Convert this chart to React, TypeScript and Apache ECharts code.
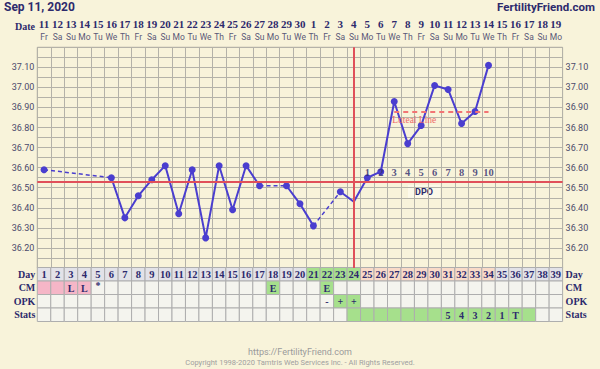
import React, { useEffect, useRef } from 'react';
import * as echarts from 'echarts';

// ---------- data ----------
const chartDate = 'Sep 11, 2020';
const siteName = 'FertilityFriend.com';
const cycleDays = ['1','2','3','4','5','6','7','8','9','10','11','12','13','14','15','16','17','18','19','20','21','22','23','24','25','26','27','28','29','30','31','32','33','34','35','36','37','38','39'];
const dates = ['11','12','13','14','15','16','17','18','19','20','21','22','23','24','25','26','27','28','29','30','1','2','3','4','5','6','7','8','9','10','11','12','13','14','15','16','17','18','19'];
const weekdays = ['Fr','Sa','Su','Mo','Tu','We','Th','Fr','Sa','Su','Mo','Tu','We','Th','Fr','Sa','Su','Mo','Tu','We','Th','Fr','Sa','Su','Mo','Tu','We','Th','Fr','Sa','Su','Mo','Tu','We','Th','Fr','Sa','Su','Mo'];
const temps: (number | null)[] = [
  36.59, null, null, null, null, 36.55, 36.35, 36.46, 36.54, 36.61,
  36.37, 36.59, 36.25, 36.61, 36.39, 36.61, 36.51, null, 36.51, 36.42,
  36.31, null, 36.48, 36.43, 36.55, 36.58, 36.93, 36.72, 36.81, 37.01,
  36.99, 36.82, 36.88, 37.11, null, null, null, null, null,
];
const noMarkerDays = [24];
const tempMin = 36.1;
const tempMax = 37.2;
const coverline = 36.53;
const ovulationDay = '24';
const lutealLevel = 36.88;
const lutealStart = '27';
const lutealEnd = '34';
const dpoLabels = ['1','2','3','4','5','6','7','8','9','10'];
const dpoStartDay = 25;
const rowNames = ['Day', 'CM', 'OPK', 'Stats'];
// n = normal, f = fertile, l = luteal
const dayPhase = ['n','n','n','n','n','n','n','n','n','n','n','n','n','n','n','n','n','n','n','n','f','f','f','f','l','l','l','l','l','l','l','l','l','l','n','n','n','n','n'];
// M = menstruation (no text), L = light, E = egg white, * = spotting
const cmObs = ['M','M','L','L','*','','','','','','','','','','','','','E','','','','E','','','','','','','','','','','','','','','','',''];
const opkObs = ['','','','','','','','','','','','','','','','','','','','','','-','+','+','','','','','','','','','','','','','','',''];
const statsObs = ['','','','','','','','','','','','','','','','','','','','','','','','g','g','g','g','g','g','g','5','4','3','2','1','T','g','',''];

// ---------- styles ----------
const NAVY = '#2d2a6c';
const BLUE = '#4a3ecf';
const RED = '#e0505a';
const BG = '#f8f3da';
const GRIDLINE = '#b4b2a8';
const CELL = '#f4f4ee';
const GRAY_CELL = '#e2e2e8';
const GREEN = '#a6e08c';
const PINK = '#f5b6c7';
const PEACH = '#f9dac8';
const SERIF = '"Liberation Serif", serif';
const SANS = 'Roboto, "Liberation Sans", sans-serif';

const L = 37.3;
const W = 525.3;
const PLOT_TOP = 47.3;
const PLOT_BOTTOM = 268;
const ROW_H = 13.5;

export default function App() {
  const ref = useRef<HTMLDivElement>(null);

  useEffect(() => {
    if (!ref.current) return;
    const chart = echarts.init(ref.current, undefined, { renderer: 'svg' });

    // bridges (dashed) across missing days
    const bridges: [number, number][] = [];
    let prev = -1;
    temps.forEach((v, i) => {
      if (v != null) {
        if (prev >= 0 && i - prev > 1) bridges.push([prev, i]);
        prev = i;
      }
    });

    // table cells
    type Cell = { x: number; y: number; fill: string; text: string };
    const cells: Cell[] = [];
    cycleDays.forEach((d, i) => {
      const ph = dayPhase[i];
      cells.push({ x: i, y: 0, fill: ph === 'f' ? GREEN : ph === 'l' ? PEACH : GRAY_CELL, text: d });
      const cm = cmObs[i];
      cells.push({
        x: i, y: 1,
        fill: cm === 'M' || cm === 'L' ? PINK : cm === 'E' ? GREEN : CELL,
        text: cm === 'M' ? '' : cm,
      });
      const op = opkObs[i];
      cells.push({ x: i, y: 2, fill: op === '+' ? GREEN : CELL, text: op });
      const st = statsObs[i];
      cells.push({ x: i, y: 3, fill: st !== '' ? GREEN : CELL, text: st === 'g' ? '' : st });
    });

    const tempData = temps.map((v, i) => {
      if (v == null) return '-';
      if (noMarkerDays.includes(i + 1)) return { value: v, symbol: 'none' };
      return v;
    });

    const option: any = {
      animation: false,
      backgroundColor: BG,
      grid: [
        {
          left: L, width: W, top: PLOT_TOP, height: PLOT_BOTTOM - PLOT_TOP,
          show: true, backgroundColor: BG, borderColor: '#a8a69c', borderWidth: 1,
        },
        {
          left: L, width: W, top: PLOT_BOTTOM - 0.5, height: ROW_H * 4,
          show: false,
        },
      ],
      xAxis: [
        {
          type: 'category', gridIndex: 0, position: 'top', data: cycleDays, boundaryGap: true,
          axisLine: { show: false }, axisTick: { show: false },
          splitLine: { show: true, interval: 0, lineStyle: { color: GRIDLINE, width: 1 } },
          axisLabel: {
            interval: 0, margin: 4,
            formatter: (_v: string, idx: number) => `{d|${dates[idx]}}\n{w|${weekdays[idx]}}`,
            rich: {
              d: { fontFamily: SERIF, fontWeight: 'bold', fontSize: 11, color: NAVY, lineHeight: 13 },
              w: { fontFamily: SANS, fontSize: 8.5, color: '#5a5878', lineHeight: 13 },
            },
          },
        },
        {
          type: 'category', gridIndex: 1, data: cycleDays, boundaryGap: true, show: false,
        },
      ],
      yAxis: [
        {
          type: 'value', gridIndex: 0, min: tempMin, max: tempMax, interval: 0.1, position: 'left',
          axisLine: { show: false }, axisTick: { show: false },
          splitLine: { show: true, lineStyle: { color: GRIDLINE, width: 1 } },
          minorTick: { show: false, splitNumber: 2 },
          minorSplitLine: { show: true, lineStyle: { color: GRIDLINE, width: 1 } },
          axisLabel: {
            showMinLabel: false, showMaxLabel: false, margin: 3,
            formatter: (v: number) => v.toFixed(2),
            fontFamily: SANS, fontSize: 9, color: '#4b4a6b',
          },
        },
        {
          type: 'value', gridIndex: 0, min: tempMin, max: tempMax, interval: 0.1, position: 'right',
          axisLine: { show: false }, axisTick: { show: false }, splitLine: { show: false },
          axisLabel: {
            showMinLabel: false, showMaxLabel: false, margin: 3,
            formatter: (v: number) => v.toFixed(2),
            fontFamily: SANS, fontSize: 9, color: '#4b4a6b',
          },
        },
        {
          type: 'category', gridIndex: 1, data: rowNames, inverse: true, position: 'left',
          axisLine: { show: false }, axisTick: { show: false }, splitLine: { show: false },
          axisLabel: { margin: 2, fontFamily: SERIF, fontWeight: 'bold', fontSize: 10, color: NAVY },
        },
        {
          type: 'category', gridIndex: 1, data: rowNames, inverse: true, position: 'right',
          axisLine: { show: false }, axisTick: { show: false }, splitLine: { show: false },
          axisLabel: { margin: 3, fontFamily: SERIF, fontWeight: 'bold', fontSize: 10, color: NAVY },
        },
      ],
      series: [
        {
          type: 'line', xAxisIndex: 0, yAxisIndex: 0, data: [], z: 1, silent: true,
          markLine: {
            silent: true, symbol: 'none', animation: false,
            lineStyle: { color: RED, width: 2, type: 'solid' },
            label: { show: false },
            data: [{ yAxis: coverline }],
          },
        },
        {
          type: 'line', xAxisIndex: 0, yAxisIndex: 0, data: [], z: 2, silent: true,
          markLine: {
            silent: true, symbol: 'none', animation: false,
            lineStyle: { color: '#f27474', width: 2, type: [5, 4] },
            label: {
              show: true, position: 'insideStartBottom', formatter: 'Luteal Line',
              fontFamily: SERIF, fontSize: 9.5, color: '#ee6a6a', distance: [-2, 3],
            },
            data: [[{ coord: [lutealStart, lutealLevel] }, { coord: [lutealEnd, lutealLevel] }]],
          },
        },
        ...bridges.map(([a, b]) => ({
          type: 'line', xAxisIndex: 0, yAxisIndex: 0, z: 3, silent: true,
          data: [[a, temps[a]], [b, temps[b]]],
          symbol: 'none',
          lineStyle: { color: BLUE, width: 1.5, type: [4, 3] },
        })),
        {
          type: 'line', xAxisIndex: 0, yAxisIndex: 0, z: 4,
          data: tempData, connectNulls: false, showAllSymbol: true,
          symbol: 'circle', symbolSize: 7,
          lineStyle: { color: BLUE, width: 2 },
          itemStyle: { color: BLUE },
        },
        {
          type: 'line', xAxisIndex: 0, yAxisIndex: 0, data: [], z: 5, silent: true,
          markLine: {
            silent: true, symbol: 'none', animation: false,
            lineStyle: { color: RED, width: 2, type: 'solid' },
            label: { show: false },
            data: [{ xAxis: ovulationDay }],
          },
        },
        {
          type: 'scatter', xAxisIndex: 0, yAxisIndex: 0, z: 8, zlevel: 0, silent: true,
          symbolSize: 0, itemStyle: { color: 'transparent' },
          labelLayout: { hideOverlap: false },
          data: dpoLabels.map((t, k) => ({ name: t, value: [dpoStartDay - 1 + k, coverline + 0.045] })),
          label: {
            show: true, position: 'inside', formatter: '{b}',
            fontFamily: SERIF, fontWeight: 'bold', fontSize: 10.5, color: NAVY,
          },
        },
        {
          type: 'custom', xAxisIndex: 1, yAxisIndex: 2, z: 2, silent: true,
          data: cells.map((c) => [c.x, c.y]),
          renderItem: (params: any, api: any) => {
            const c = cells[params.dataIndex];
            const p = api.coord([api.value(0), api.value(1)]);
            const s = api.size([1, 1]);
            return {
              type: 'group',
              children: [
                {
                  type: 'rect',
                  shape: { x: p[0] - s[0] / 2, y: p[1] - s[1] / 2, width: s[0], height: s[1] },
                  style: { fill: c.fill, stroke: '#aeaeae', lineWidth: 1 },
                },
                {
                  type: 'text',
                  x: p[0], y: p[1] + (c.text === '*' ? -2 : 0.5),
                  style: {
                    text: c.text, align: 'center', verticalAlign: 'middle',
                    fontFamily: SERIF, fontWeight: 'bold', fontSize: c.y === 0 ? 10.5 : 10, fill: NAVY,
                  },
                },
              ],
            };
          },
        },
      ],
      graphic: [
        { type: 'text', left: 4, top: 1, style: { text: chartDate, fontFamily: SANS, fontWeight: 'bold', fontSize: 12, fill: NAVY } },
        { type: 'text', right: 5, top: 1, style: { text: siteName, fontFamily: SANS, fontWeight: 'bold', fontSize: 11.5, fill: NAVY } },
        { type: 'text', x: 35, y: 26.5, style: { text: 'Date', align: 'right', verticalAlign: 'middle', fontFamily: SERIF, fontWeight: 'bold', fontSize: 10, fill: NAVY } },
        {
          type: 'group', x: 408, y: 185, z: 10,
          children: [
            { type: 'rect', shape: { x: 0, y: 0, width: 32, height: 13 }, style: { fill: '#fcf9e9' } },
            { type: 'text', x: 16, y: 7, style: { text: 'DPO', align: 'center', verticalAlign: 'middle', fontFamily: SANS, fontWeight: 'bold', fontSize: 9, fill: NAVY } },
          ],
        },
        { type: 'text', x: 300, y: 352, style: { text: 'https://FertilityFriend.com', align: 'center', verticalAlign: 'middle', fontFamily: SANS, fontSize: 9, fill: '#9a9a9a' } },
        { type: 'text', x: 300, y: 362, style: { text: 'Copyright 1998-2020 Tamtris Web Services Inc. - All Rights Reserved.', align: 'center', verticalAlign: 'middle', fontFamily: SANS, fontSize: 7.5, fill: '#a0a0a0' } },
      ],
    };

    chart.setOption(option);
    return () => chart.dispose();
  }, []);

  return (
    <div
      ref={ref}
      style={{ position: 'fixed', left: 0, top: 0, width: 600, height: 369, background: BG }}
    />
  );
}
